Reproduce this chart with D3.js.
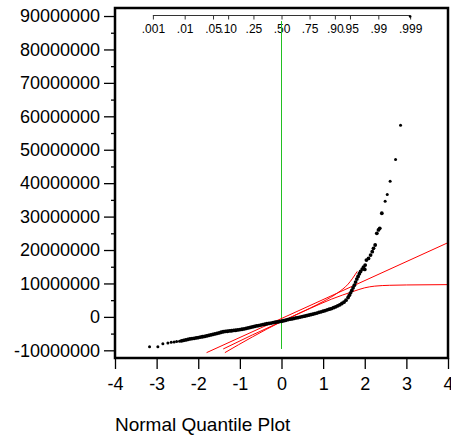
<!DOCTYPE html>
<meta charset="utf-8">
<script src="https://d3js.org/d3.v7.min.js"></script>
<style>
body { margin: 0; background: #fff; }
text { font-family: "Liberation Sans", Arial, sans-serif; fill: #000; }
.axis path { display: none; }
.axis line { stroke: #000; stroke-width: 1.3px; }
.paxis line { stroke: #333; stroke-width: 1px; }
.fit { fill: none; stroke: #ff0000; stroke-width: 1px; }
</style>
<body>
<script>

// normal quantile of each point (x) and its value in millions (y)
var quantiles = [
  -3.17, -2.97, -2.85, -2.73, -2.65, -2.58, -2.52,
  -2.45, -2.40, -2.35, -2.30, -2.25, -2.20, -2.15, -2.10, -2.05, -2.00,
  -1.95, -1.90, -1.85, -1.80, -1.75, -1.70, -1.65, -1.60, -1.55, -1.50,
  -1.45, -1.40, -1.35, -1.30, -1.25, -1.20, -1.15, -1.10, -1.05, -1.00,
  -0.95, -0.90, -0.85, -0.80, -0.75, -0.70, -0.65, -0.60, -0.55, -0.50,
  -0.45, -0.40, -0.35, -0.30, -0.25, -0.20, -0.15, -0.10, -0.05, 0.00,
  0.05, 0.10, 0.15, 0.20, 0.25, 0.30, 0.35, 0.40, 0.45, 0.50,
  0.55, 0.60, 0.65, 0.70, 0.75, 0.80, 0.85, 0.90, 0.95, 1.00,
  1.05, 1.10, 1.15, 1.20, 1.25, 1.30, 1.35, 1.40, 1.45, 1.50,
  1.55, 1.60, 1.63, 1.66, 1.69, 1.72, 1.75, 1.78, 1.81, 1.84,
  1.87, 1.90, 1.94, 1.97, 2.00, 2.01, 2.04, 2.09, 2.14, 2.18,
  2.21, 2.25, 2.29, 2.33, 2.36, 2.41, 2.49, 2.54, 2.61, 2.74, 2.86
];
var values = [
  -8.9, -8.9, -8.0, -7.8, -7.6, -7.5, -7.4,
  -7.3, -7.15, -7.0, -6.9, -6.75, -6.6, -6.5, -6.4, -6.3, -6.2,
  -6.05, -5.95, -5.85, -5.7, -5.55, -5.4, -5.25, -5.1, -4.95, -4.8,
  -4.6, -4.45, -4.35, -4.3, -4.2, -4.15, -4.05, -4.0, -3.9, -3.8,
  -3.7, -3.6, -3.45, -3.3, -3.15, -3.0, -2.85, -2.7, -2.6, -2.45,
  -2.3, -2.2, -2.05, -1.95, -1.85, -1.7, -1.6, -1.5, -1.4, -1.3,
  -1.15, -1.0, -0.85, -0.7, -0.6, -0.45, -0.3, -0.2, -0.05, 0.1,
  0.2, 0.35, 0.5, 0.65, 0.8, 1.0, 1.15, 1.35, 1.5, 1.7,
  1.9, 2.1, 2.3, 2.5, 2.75, 3.0, 3.3, 3.6, 4.0, 4.4,
  5.0, 5.8, 6.5, 7.2, 7.9, 8.7, 9.5, 10.4, 11.3, 12.1,
  12.9, 13.6, 14.3, 14.9, 14.2, 15.5, 17.0, 17.5, 18.5, 19.5,
  20.5, 21.5, 25.0, 26.0, 26.5, 31.0, 34.6, 36.6, 40.6, 47.1, 57.3
];

// fitted curves (quantile, millions)
var fitNormal = [[-1.80, -10.7], [4.0, 22.2]];
var fitBounded = [[-1.36, -10.7], [-0.7, -6.0], [0, -1.4], [0.7, 2.6], [1.2, 5.3],
                  [1.72, 7.6], [2.0, 8.7], [2.24, 9.2], [2.6, 9.45], [3.0, 9.55], [4.0, 9.65]];
var fitSkewed = [[-1.40, -9.6], [-0.7, -5.4], [0, -1.4], [0.7, 2.7], [1.0, 4.6],
                 [1.35, 7.2], [1.6, 9.8], [1.82, 13.6]];

var xTicks = [-4, -3, -2, -1, 0, 1, 2, 3, 4];
var yTicks = [-10, 0, 10, 20, 30, 40, 50, 60, 70, 80, 90];
var yMinorTicks = [-5, 5, 15, 25, 35, 45, 55, 65, 75, 85];

// probability scale along the top
var probLabels = [".001", ".01", ".05", ".10", ".25", ".50", ".75", ".90", ".95", ".99", ".999"];
var probZ = [-3.090, -2.326, -1.645, -1.282, -0.674, 0, 0.674, 1.282, 1.645, 2.326, 3.090];

var refLine = [-9.6, 88.5];

var width = 451,
    height = 436;

var svg = d3.select("body").append("svg")
    .attr("width", width)
    .attr("height", height);

var x = d3.scaleLinear().domain([-4, 4]).range([115, 448]);
var y = d3.scaleLinear().domain([-12.3, 92.4]).range([358, 8]);

// y axis
svg.append("g")
    .attr("class", "axis")
    .attr("transform", "translate(115,0)")
    .call(d3.axisLeft(y).tickValues(yMinorTicks).tickSize(4).tickFormat(""));

svg.append("g")
    .attr("class", "axis")
    .attr("transform", "translate(115,0)")
    .call(d3.axisLeft(y).tickValues(yTicks).tickSize(11).tickPadding(4)
      .tickFormat(function(d) { return String(Math.round(d * 1e6)); }))
    .selectAll("text").style("font-size", "18px");

// x axis
svg.append("g")
    .attr("class", "axis")
    .attr("transform", "translate(0,358)")
    .call(d3.axisBottom(x).tickValues(xTicks).tickSize(11).tickPadding(8)
      .tickFormat(function(d) { return String(d); }))
    .selectAll("text").style("font-size", "18px");

// probability axis
svg.append("line")
    .attr("x1", x(probZ[0])).attr("x2", x(probZ[probZ.length - 1]))
    .attr("y1", 15.5).attr("y2", 15.5)
    .attr("stroke", "#333").attr("stroke-width", 1);

svg.append("g")
    .attr("class", "axis paxis")
    .attr("transform", "translate(0,15.5)")
    .call(d3.axisBottom(x).tickValues(probZ).tickSize(4).tickPadding(5)
      .tickFormat(function(d, i) { return probLabels[i]; }))
    .selectAll("text").style("font-size", "12px");

svg.append("circle")
    .attr("cx", x(probZ[probZ.length - 1])).attr("cy", 16.5).attr("r", 1.3)
    .attr("fill", "#000");

// reference line at 0
svg.append("line")
    .attr("x1", x(0)).attr("x2", x(0))
    .attr("y1", y(refLine[1])).attr("y2", y(refLine[0]))
    .attr("stroke", "#22c022").attr("stroke-width", 1);

// fitted curves
var line = d3.line()
    .x(function(d) { return x(d[0]); })
    .y(function(d) { return y(d[1]); })
    .curve(d3.curveMonotoneX);

[fitNormal, fitBounded, fitSkewed].forEach(function(f) {
  svg.append("path").attr("class", "fit").attr("d", line(f));
});

// points
svg.append("g")
  .selectAll("circle")
  .data(quantiles)
  .enter()
  .append("circle")
    .attr("cx", function(d) { return x(d); })
    .attr("cy", function(d, i) { return y(values[i]); })
    .attr("r", function(d) { return Math.abs(d) < 2.45 ? 1.9 : 1.5; })
    .attr("fill", "#000");

// frame
svg.append("rect")
    .attr("x", 115).attr("y", 8)
    .attr("width", 333).attr("height", 350)
    .attr("fill", "none")
    .attr("stroke", "#000")
    .attr("stroke-width", 2.5);

svg.append("text")
    .attr("x", 115).attr("y", 431)
    .style("font-size", "19px")
    .text("Normal Quantile Plot");

</script>
</body>
</html>
